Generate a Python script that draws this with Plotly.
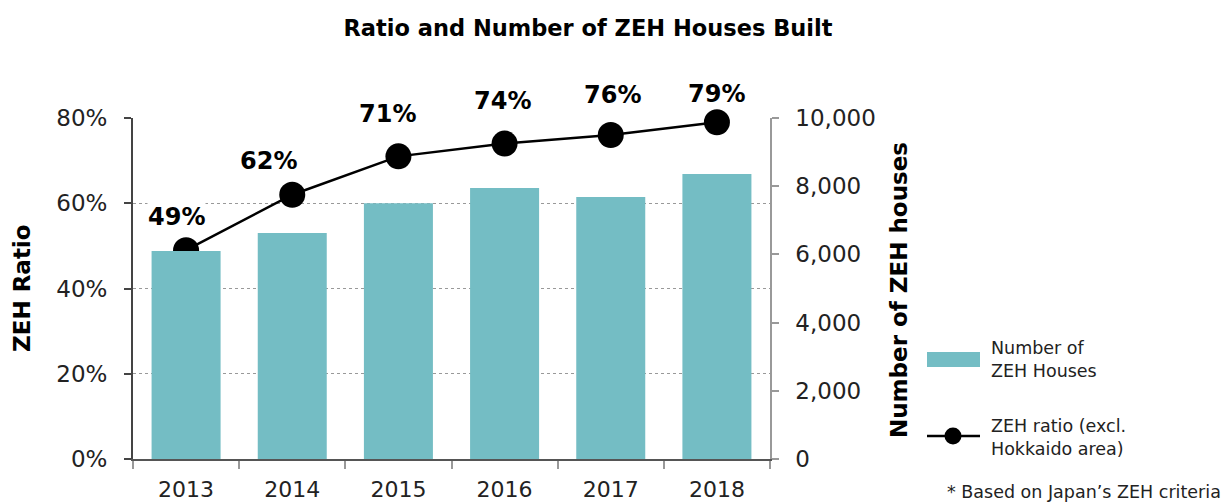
import plotly.graph_objects as go

years = ["2013", "2014", "2015", "2016", "2017", "2018"]
houses = [6100, 6630, 7500, 7950, 7680, 8360]
ratio = [0.49, 0.62, 0.71, 0.74, 0.76, 0.79]
ratio_labels = ["49%", "62%", "71%", "74%", "76%", "79%"]
label_dx = [-10, -24, -11, -2, 2, 0]
label_dy = [33, 34, 42, 43, 40, 28]

W, H = 1227, 502
L, R, T, B = 133, 457, 118, 43
PW, PH = W - L - R, H - T - B

def px(p):
    return (p - L) / PW

def py(p):
    return (H - B - p) / PH

FONT = "DejaVu Sans"
BAR = "#74BDC4"

fig = go.Figure()
fig.add_trace(go.Bar(x=years, y=houses, yaxis="y2", marker=dict(color=BAR, line=dict(width=0)),
                     width=0.65, name="Number of ZEH Houses", showlegend=False))
fig.add_trace(go.Scatter(x=years, y=ratio, yaxis="y", mode="lines+markers",
                         line=dict(color="black", width=2.5),
                         marker=dict(color="black", size=26),
                         cliponaxis=False, showlegend=False))

ann = []
for i, (r, t, dx, dy) in enumerate(zip(ratio, ratio_labels, label_dx, label_dy)):
    ann.append(dict(x=i, y=r, xref="x", yref="y", text="<b>%s</b>" % t, showarrow=False,
                    xshift=dx, yshift=dy, bgcolor="white", borderpad=0,
                    font=dict(family=FONT, size=24, color="black")))

def note(x, y, text, size, xanchor="center", angle=0, bold=False, color="#222"):
    return dict(x=px(x), y=py(y), xref="paper", yref="paper", xanchor=xanchor, yanchor="middle",
                text=("<b>%s</b>" % text) if bold else text, textangle=angle, align="left",
                showarrow=False, font=dict(family=FONT, size=size, color=color))

# axis titles
ann.append(note(22, 288, "ZEH Ratio", 23, angle=-90, bold=True, color="black"))
ann.append(note(899, 290, "Number of ZEH houses", 23, angle=-90, bold=True, color="black"))
# legend texts
ann.append(note(989, 359, "Number of<br>ZEH Houses", 17.5, xanchor="left"))
ann.append(note(989, 437, "ZEH ratio (excl.<br>Hokkaido area)", 17.5, xanchor="left"))
ann.append(note(1223, 492, "* Based on Japan’s ZEH criteria", 17.5, xanchor="right"))

shapes = [
    dict(type="rect", xref="paper", yref="paper", x0=px(927), x1=px(980), y0=py(352), y1=py(367),
         fillcolor=BAR, line=dict(width=0)),
    dict(type="line", xref="paper", yref="paper", x0=px(927), x1=px(980), y0=py(436), y1=py(436),
         line=dict(color="black", width=2.5)),
    dict(type="circle", xref="paper", yref="paper", x0=px(944.5), x1=px(961.5), y0=py(427.5), y1=py(444.5),
         fillcolor="black", line=dict(width=0)),
]

fig.update_layout(
    width=W, height=H,
    margin=dict(l=L, r=R, t=T, b=B, pad=0, autoexpand=False),
    paper_bgcolor="white", plot_bgcolor="white",
    title=dict(text="<b>Ratio and Number of ZEH Houses Built</b>", x=588 / W, xanchor="center",
               y=1 - 28 / H, yanchor="middle", font=dict(family=FONT, size=22.5, color="black")),
    font=dict(family=FONT, color="#222"),
    showlegend=False,
    bargap=0.35,
    xaxis=dict(type="category", range=[-0.5, 5.5], showline=True, linecolor="#555", linewidth=1.5,
               ticks="outside", tickson="boundaries", ticklen=8, tickcolor="#999", tickwidth=1.5,
               tickfont=dict(family=FONT, size=22, color="#222"), showgrid=False, zeroline=False,
               ticklabelstandoff=10, automargin=False, fixedrange=True),
    yaxis=dict(range=[0, 0.8], dtick=0.2, tickformat=".0%", showline=True, linecolor="#444",
               linewidth=2, ticks="outside", ticklen=7, tickcolor="#444", tickwidth=1.5,
               showgrid=True, gridcolor="#999", griddash="dot", gridwidth=1, zeroline=False,
               tickfont=dict(family=FONT, size=23, color="#222"), ticklabelstandoff=12,
               automargin=False),
    yaxis2=dict(range=[0, 10000], dtick=2000, tickformat=",", overlaying="y", side="right",
                showline=True, linecolor="#999", linewidth=1.5, ticks="outside", ticklen=7,
                tickcolor="#999", tickwidth=1.5, showgrid=False, zeroline=False,
                tickfont=dict(family=FONT, size=23, color="#222"), ticklabelstandoff=12,
                automargin=False),
    annotations=ann,
    shapes=shapes,
)

fig.write_html("out.html", config={"displayModeBar": False},
               post_script="document.body.style.margin='0';document.body.style.overflow='hidden';")
